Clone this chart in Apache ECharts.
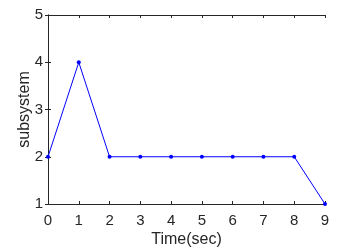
<!DOCTYPE html>
<html><head><meta charset="utf-8">
<script src="https://cdn.jsdelivr.net/npm/echarts@6/dist/echarts.min.js"></script>
<style>html,body{margin:0;padding:0;background:#fff}#c{width:344px;height:250px}</style>
</head><body><div id="c"></div>
<script>
const times = [0,1,2,3,4,5,6,7,8,9];
const subsystem = [2,4,2,2,2,2,2,2,2,1];
const xTitle = 'Time(sec)';
const yTitle = 'subsystem';
const font = 'Liberation Sans, Arial, sans-serif';
const chart = echarts.init(document.getElementById('c'), null, {renderer:'canvas'});
const axisLine = {show:true, lineStyle:{color:'#262626', width:1}};
const tick = {show:true, inside:true, length:3, lineStyle:{color:'#262626', width:1}};
chart.setOption({
  animation:false,
  grid:{left:48, right:19, top:15, bottom:46, containLabel:false, outerBoundsMode:'none'},
  xAxis:[{type:'value', min:0, max:9, interval:1, axisLine, axisTick:tick,
    axisLabel:{color:'#262626', fontSize:15, fontFamily:font, margin:9},
    splitLine:{show:false}, name:xTitle, nameLocation:'middle', nameGap:28, nameMoveOverlap:false,
    nameTextStyle:{color:'#262626', fontSize:16, fontFamily:font}},
    {type:'value', position:'top', min:0, max:9, interval:1, axisLine, axisTick:tick,
    axisLabel:{show:false}, splitLine:{show:false}}],
  yAxis:[{type:'value', min:1, max:5, interval:1, axisLine, axisTick:tick,
    axisLabel:{color:'#262626', fontSize:15, fontFamily:font, margin:5},
    splitLine:{show:false}, name:yTitle, nameLocation:'middle', nameGap:15, nameMoveOverlap:false,
    nameTextStyle:{color:'#262626', fontSize:16, fontFamily:font}},
    {type:'value', position:'right', min:1, max:5, interval:1, axisLine, axisTick:tick,
    axisLabel:{show:false}, splitLine:{show:false}}],
  series:[{type:'line', data:times.map((t,i)=>[t, subsystem[i]]),
    lineStyle:{color:'#0000ff', width:1}, itemStyle:{color:'#0000ff'},
    symbol:'circle', symbolSize:4, showSymbol:true}]
});
</script></body></html>
